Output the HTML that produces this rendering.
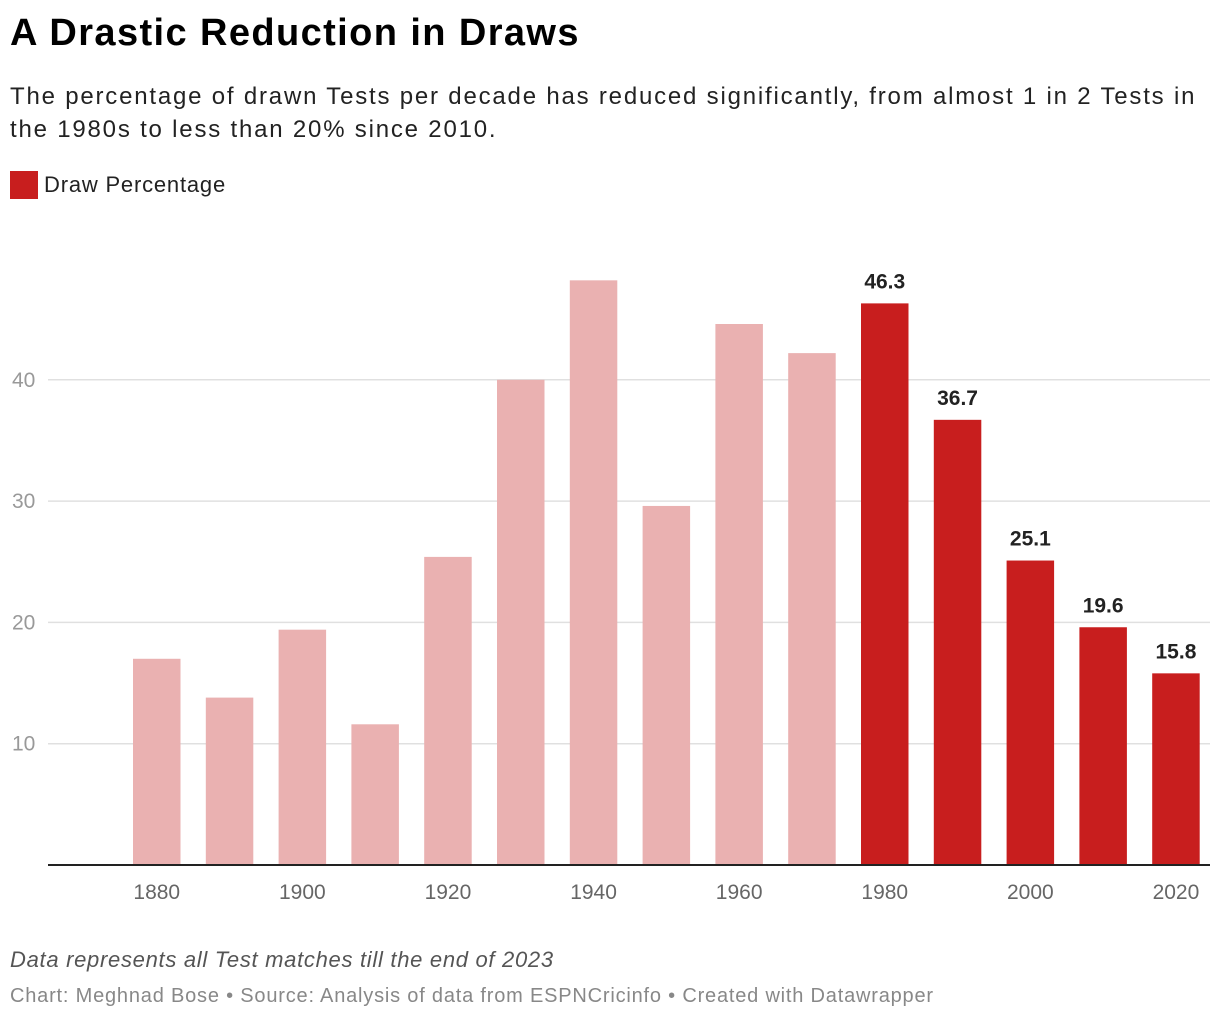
<!DOCTYPE html>
<html><head><meta charset="utf-8"><style>
body{margin:0;width:1220px;height:1020px;background:#fff;font-family:"Liberation Sans",sans-serif;position:relative;overflow:hidden}
.t{position:absolute;left:10px;white-space:nowrap}
</style></head><body>
<div class="t" style="top:12px;font-size:38px;font-weight:bold;color:#000;letter-spacing:1.4px">A Drastic Reduction in Draws</div>
<div class="t" style="top:80px;font-size:24px;line-height:33px;color:#222;letter-spacing:1.8px">The percentage of drawn Tests per decade has reduced significantly, from almost 1 in 2 Tests in<br>the 1980s to less than 20% since 2010.</div>
<div style="position:absolute;left:10px;top:171px;height:28px;display:flex;align-items:center">
<span style="width:28px;height:28px;background:#c81e1e;display:inline-block"></span>
<span style="font-size:22px;color:#222;margin-left:6px;letter-spacing:0.8px">Draw Percentage</span></div>
<svg id="chart" width="1220" height="1020" style="position:absolute;left:0;top:0"></svg>
<div class="t" style="top:947px;font-size:22px;font-style:italic;color:#555;letter-spacing:0.7px">Data represents all Test matches till the end of 2023</div>
<div class="t" style="top:985px;font-size:20px;color:#888;letter-spacing:0.8px">Chart: Meghnad Bose • Source: Analysis of data from ESPNCricinfo  • Created with Datawrapper</div>
<script>
const decades=[1880,1890,1900,1910,1920,1930,1940,1950,1960,1970,1980,1990,2000,2010,2020];
const drawPct=[17.0,13.8,19.4,11.6,25.4,40.0,48.2,29.6,44.6,42.2,46.3,36.7,25.1,19.6,15.8];
const highlighted=[false,false,false,false,false,false,false,false,false,false,true,true,true,true,true];
const yTicks=[10,20,30,40];
const xTickLabels=[1880,1900,1920,1940,1960,1980,2000,2020];
const NS="http://www.w3.org/2000/svg";
const svg=document.getElementById('chart');
const y0=865,pxPer=12.13,left=48,right=1210,firstX=133,step=72.8,bw=47.5;
const y=v=>y0-v*pxPer;
const xi=i=>firstX+i*step;
const xd=d=>xi(decades.indexOf(d));
function mk(tag,attrs){const e=document.createElementNS(NS,tag);for(const k in attrs)e.setAttribute(k,attrs[k]);svg.appendChild(e);return e;}
yTicks.forEach(v=>{
 const g=mk('line',{x1:left,x2:right,y1:y(v),y2:y(v),stroke:'#e0e0e0','stroke-width':1.5});
 
 
 const t=mk('text',{x:12,y:y(v)+7,'font-size':21,fill:'#999','font-family':'Liberation Sans'});
 t.textContent=v;
 
 
});
decades.forEach((d,i)=>{
 const v=drawPct[i];
 const r=mk('rect',{x:xi(i),y:y(v),width:bw,height:y0-y(v),fill:highlighted[i]?'#c81e1e':'#eab1b1'});
 
 
 if(highlighted[i]){
  const t=mk('text',{x:xi(i)+bw/2,y:y(v)-15,'font-size':21,'font-weight':'bold',fill:'#222','text-anchor':'middle','font-family':'Liberation Sans'});
  t.textContent=v.toFixed(1);
  
  
 }
});
const ax=mk('line',{x1:left,x2:right,y1:y0,y2:y0,stroke:'#222','stroke-width':2});


xTickLabels.forEach(d=>{
 const t=mk('text',{x:xd(d)+bw/2,y:899,'font-size':21,fill:'#666','text-anchor':'middle','font-family':'Liberation Sans'});
 t.textContent=d;
 
 
});
</script>
</body></html>
